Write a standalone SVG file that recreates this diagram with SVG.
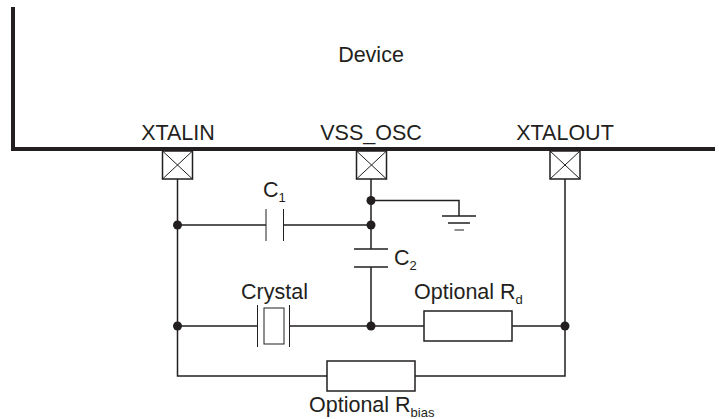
<svg xmlns="http://www.w3.org/2000/svg" width="719" height="419" viewBox="0 0 719 419">
<style>
text{font-family:"Liberation Sans",Arial,sans-serif;font-size:21.500px;fill:#231f20}
.sub{font-size:13px}
.w{fill:none;stroke:#231f20;stroke-width:1.500}
.t{fill:none;stroke:#231f20;stroke-width:1}
.bus{fill:none;stroke:#231f20;stroke-width:4}
.d{fill:#231f20}
</style>
<rect width="719" height="419" fill="#fff"/>
<g id="connectors">
<path class="w" d="M177.500 179V376H327M415 376H565V179"/>
<path class="w" d="M177.500 225H266M283 225H371M371 179V249M371 267V326M371 200.500H459V216"/>
<path class="w" d="M177.500 326H257M289 326H424M512 326H565"/>
</g>
<g id="device"><path class="bus" d="M13 7V149H715"/><text x="371" y="62" text-anchor="middle">Device</text></g>
<g id="pin-xtalin"><rect class="w" x="162.500" y="151" width="30" height="28" fill="none"/><path class="t" d="M162.500 151L192.500 179M192.500 151L162.500 179"/><text x="178" y="140" text-anchor="middle">XTALIN</text></g>
<g id="pin-vss"><rect class="w" x="356.500" y="151" width="30" height="28"/><path class="t" d="M356.500 151L386.500 179M386.500 151L356.500 179"/><text x="371" y="140" text-anchor="middle">VSS_OSC</text></g>
<g id="pin-xtalout"><rect class="w" x="550" y="151" width="30" height="28"/><path class="t" d="M550 151L580 179M580 151L550 179"/><text x="565" y="140" text-anchor="middle">XTALOUT</text></g>
<g id="c1"><path class="t" d="M266 209V241M283.500 209V241"/><text x="263" y="197">C<tspan class="sub" dy="5">1</tspan></text></g>
<g id="c2"><path class="w" d="M354 249H388M354 267H388"/><text x="394" y="265">C<tspan class="sub" dy="5">2</tspan></text></g>
<g id="ground"><path class="w" d="M442 216H476M448 223H470"/><path class="t" d="M454.500 230H464"/></g>
<g id="crystal"><path class="t" d="M257.500 305V347M289.500 305V347"/><rect class="t" x="264" y="308" width="20" height="36"/><text x="274.500" y="299" text-anchor="middle">Crystal</text></g>
<g id="rd"><rect class="w" x="424" y="311" width="88" height="30"/><text x="414" y="299">Optional R<tspan class="sub" dy="5">d</tspan></text></g>
<g id="rbias"><rect class="w" x="327" y="361" width="88" height="30"/><text x="309" y="412">Optional R<tspan class="sub" dy="5">bias</tspan></text></g>
<g id="junctions" class="d">
<circle cx="177.500" cy="225" r="4.500"/><circle cx="371" cy="225" r="4.500"/><circle cx="371" cy="200.500" r="4.500"/>
<circle cx="177.500" cy="326" r="4.500"/><circle cx="371" cy="326" r="4.500"/><circle cx="565" cy="326" r="4.500"/>
</g>
</svg>
